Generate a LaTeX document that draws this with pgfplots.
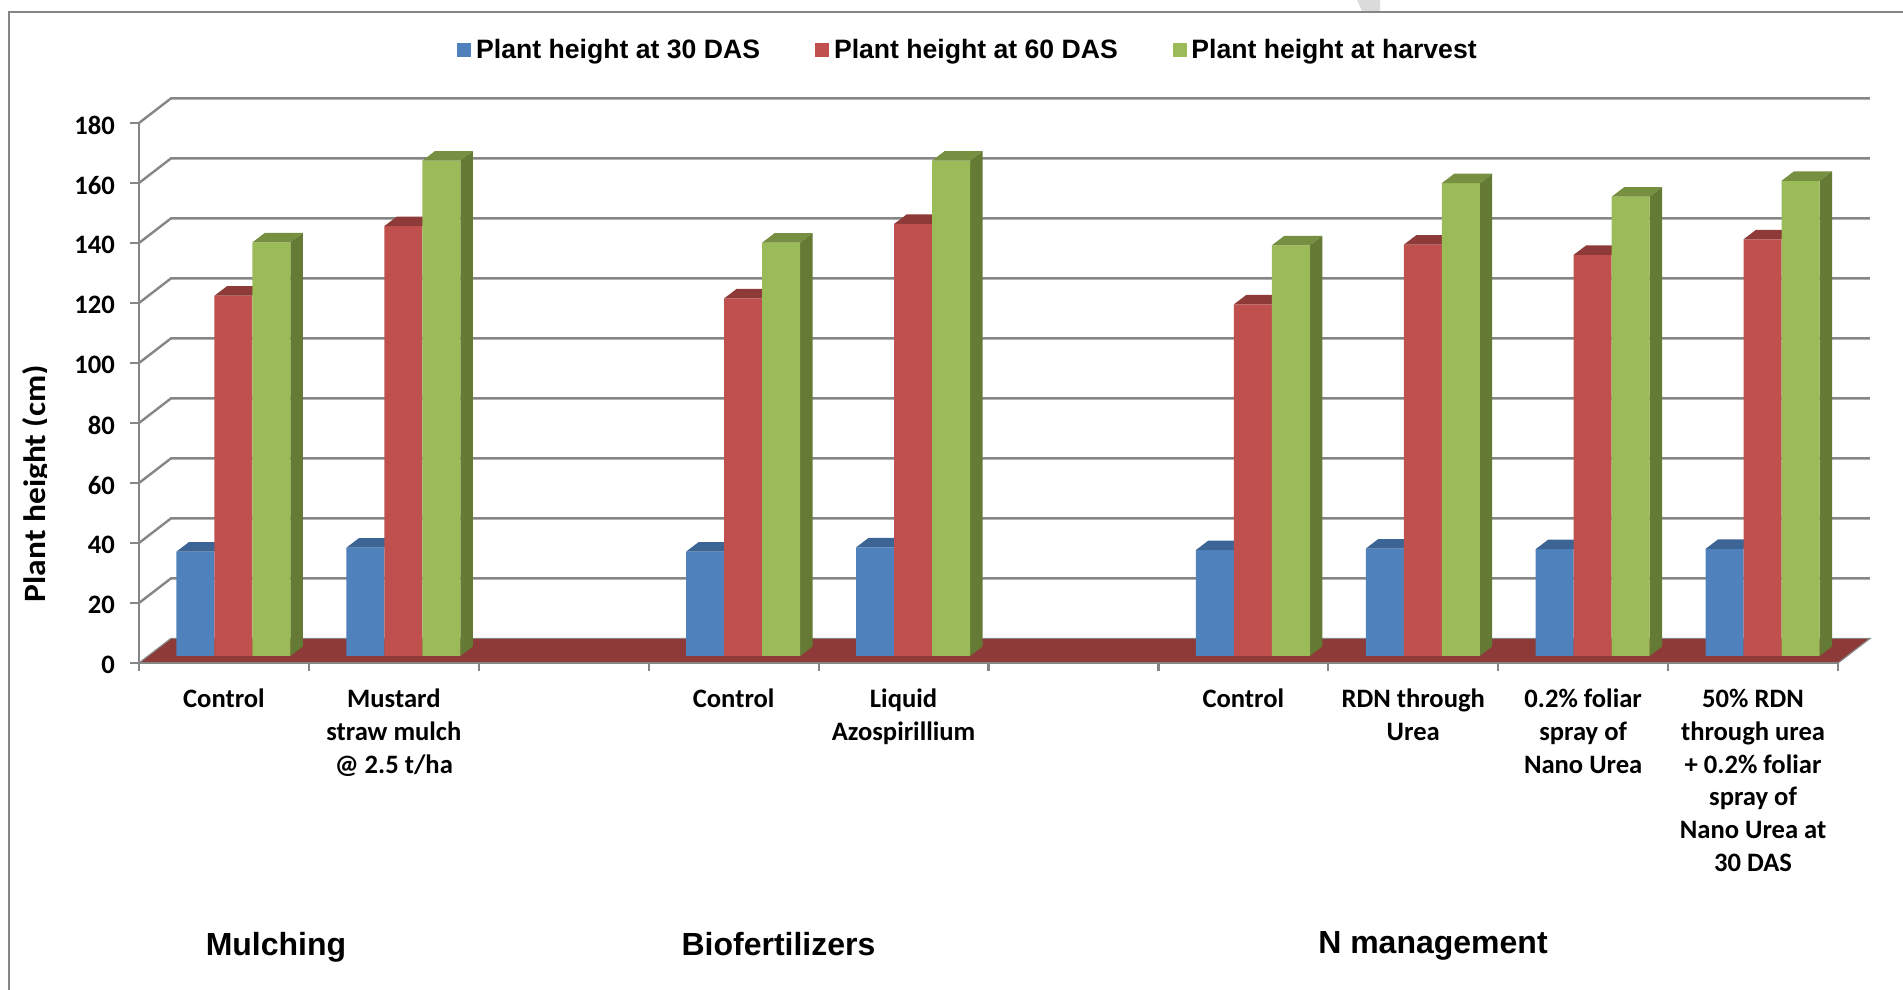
\documentclass[border=0pt]{standalone}
\usepackage{fontspec}
\usepackage{graphicx}
\setmainfont{Carlito}
\newfontfamily\arial{Liberation Sans}
\usepackage{pgfplots}
\usepackage{pgfplotstable}
\pgfplotsset{compat=1.18}
\definecolor{gridg}{HTML}{868686}
\definecolor{cblue}{HTML}{4F81BD}
\definecolor{cred}{HTML}{C0504D}
\definecolor{cgreen}{HTML}{9BBB59}
\definecolor{tblue}{HTML}{3C6494}
\definecolor{tred}{HTML}{8E3A38}
\definecolor{tgreen}{HTML}{768F41}
\definecolor{sgreen}{HTML}{647A35}
\definecolor{floorc}{HTML}{8E3A38}
\pgfplotstableread{
x h30 h60 hh
0.5 34.8 120.1 137.9
1.5 36.1 143.3 165.1
3.5 34.8 119.2 137.8
4.5 36.2 144.0 165.1
6.5 35.3 117.2 136.9
7.5 35.8 137.1 157.6
8.5 35.6 133.7 153.1
9.5 35.7 138.9 158.4
}\heights
\pgfdeclareplotmark{topface}{%
  \pgfpathmoveto{\pgfqpoint{-9.5pt}{0pt}}%
  \pgfpathlineto{\pgfqpoint{9.5pt}{0pt}}%
  \pgfpathlineto{\pgfqpoint{15.75pt}{4.75pt}}%
  \pgfpathlineto{\pgfqpoint{-3.25pt}{4.75pt}}%
  \pgfpathclose\pgfusepathqfill}
\newcommand\greenside[2]{%
  \pgfmathsetmacro\sa{#1+0.3353}%
  \pgfmathsetmacro\sb{#1+0.4088}%
  \pgfmathsetmacro\st{#2+3.17}%
  \edef\temp{\noexpand\addplot[fill=sgreen,draw=none,forget plot] coordinates {(\sa,0)(\sb,3.17)(\sb,\st)(\sa,#2)} --cycle;}%
  \temp}
\begin{document}
\begin{tikzpicture}
\path[use as bounding box] (0,0) rectangle (951.5pt,495pt);
% outer frame and stray mark
\fill[black!14] (678.5pt,495pt) -- (690pt,495pt) -- (690pt,489.5pt) -- (681pt,489.5pt) -- cycle;
\draw[gridg,line width=1pt] (4.5pt,0) -- (4.5pt,489.2pt) -- (951.5pt,489.2pt);
\begin{axis}[
  at={(69.5pt,163.5pt)},anchor=south west,
  scale only axis,width=849.5pt,height=270pt,
  xmin=0,xmax=10,ymin=0,ymax=180,clip=false,
  axis x line=bottom,axis y line=left,
  axis line style={-,gridg,line width=1.1pt},
  axis on top,
  ytick={0,20,...,180},
  xtick={0.5,1.5,3.5,4.5,6.5,7.5,8.5,9.5},
  minor xtick={0,1,...,10},
  xticklabels={Control,{Mustard\\straw mulch\\@ 2.5 t/ha},Control,{Liquid\\Azospirillium},Control,{RDN through\\Urea},{0.2\% foliar\\spray of\\Nano Urea},{50\% RDN\\through urea\\+ 0.2\% foliar\\spray of\\Nano Urea at\\30 DAS}},
  tick align=outside,
  major tick length=4.5pt,minor tick length=4pt,
  tick style={gridg,line width=1.1pt},
  major x tick style={draw=none},
  /pgf/number format/assume math mode=true,
  ticklabel style={font=\bfseries\fontsize{13.3}{16.4}\selectfont,text=black},
  xticklabel style={align=center,yshift=-5pt},
  yticklabel style={xshift=-4pt,yshift=-1.1pt},
]
\addplot[gridg,line width=1.2pt] coordinates {(0,20)(0.1882,28.2)(10.1882,28.2)};
\addplot[gridg,line width=1.2pt] coordinates {(0,40)(0.1882,48.2)(10.1882,48.2)};
\addplot[gridg,line width=1.2pt] coordinates {(0,60)(0.1882,68.2)(10.1882,68.2)};
\addplot[gridg,line width=1.2pt] coordinates {(0,80)(0.1882,88.2)(10.1882,88.2)};
\addplot[gridg,line width=1.2pt] coordinates {(0,100)(0.1882,108.2)(10.1882,108.2)};
\addplot[gridg,line width=1.2pt] coordinates {(0,120)(0.1882,128.2)(10.1882,128.2)};
\addplot[gridg,line width=1.2pt] coordinates {(0,140)(0.1882,148.2)(10.1882,148.2)};
\addplot[gridg,line width=1.2pt] coordinates {(0,160)(0.1882,168.2)(10.1882,168.2)};
\addplot[gridg,line width=1.2pt] coordinates {(0,180)(0.1882,188.2)(10.1882,188.2)};
\addplot[fill=floorc,draw=gridg,line width=0.6pt] coordinates {(0,0)(10,0)(10.1882,8.2)(0.1882,8.2)} --cycle;
\end{axis}
\begin{axis}[
  at={(74.25pt,167pt)},anchor=south west,
  scale only axis,width=849.5pt,height=270pt,
  xmin=0,xmax=10,ymin=0,ymax=180,
  clip mode=individual,
  hide axis,
  legend style={at={(0.1816,1.122)},anchor=west,draw=none,fill=none,inner sep=0pt,
    font=\arial\bfseries\fontsize{13.3}{16}\selectfont,
    legend columns=3,
    /tikz/column 1/.style={column sep=2.4pt},
    /tikz/column 2/.style={column sep=27.6pt},
    /tikz/column 3/.style={column sep=2.4pt},
    /tikz/column 4/.style={column sep=27.4pt},
    /tikz/column 5/.style={column sep=2.4pt},
    /tikz/nodes={inner sep=0pt}},
  legend image code/.code={\path[#1,draw=none] (0pt,-3.5pt) rectangle (7pt,3.5pt);},
]
\addplot[ybar,bar width=19pt,bar shift=-19pt,fill=cblue,draw=none] table[x=x,y=h30] {\heights};
\addplot[only marks,mark=topface,mark options={xshift=-19pt,fill=tblue,draw=none},forget plot] table[x=x,y=h30] {\heights};
\addplot[ybar,bar width=19pt,bar shift=0pt,fill=cred,draw=none] table[x=x,y=h60] {\heights};
\addplot[only marks,mark=topface,mark options={fill=tred,draw=none},forget plot] table[x=x,y=h60] {\heights};
\greenside{0.5}{137.9}
\greenside{1.5}{165.1}
\greenside{3.5}{137.8}
\greenside{4.5}{165.1}
\greenside{6.5}{136.9}
\greenside{7.5}{157.6}
\greenside{8.5}{153.1}
\greenside{9.5}{158.4}
\addplot[ybar,bar width=19pt,bar shift=19pt,fill=cgreen,draw=none] table[x=x,y=hh] {\heights};
\addplot[only marks,mark=topface,mark options={xshift=19pt,fill=tgreen,draw=none},forget plot] table[x=x,y=hh] {\heights};
\legend{Plant height at 30 DAS,Plant height at 60 DAS,Plant height at harvest}
\end{axis}
% axis titles and group captions
\node[rotate=90,anchor=base,inner sep=0pt,font=\bfseries\fontsize{15.5}{18}\selectfont] at (22.5pt,253.2pt) {\scalebox{1.08}[1]{Plant height (cm)}};
\fill[white] (23.5pt,190pt) rectangle (27pt,314pt);
\node[anchor=base,inner sep=0pt,font=\arial\bfseries\fontsize{16}{19}\selectfont] at (138pt,17pt) {Mulching};
\node[anchor=base,inner sep=0pt,font=\arial\bfseries\fontsize{16}{19}\selectfont] at (389.25pt,17pt) {Biofertilizers};
\node[anchor=base,inner sep=0pt,font=\arial\bfseries\fontsize{16}{19}\selectfont] at (716.5pt,18.2pt) {N management};
\fill[white] (120pt,10pt) rectangle (156pt,15pt);
\end{tikzpicture}
\end{document}
